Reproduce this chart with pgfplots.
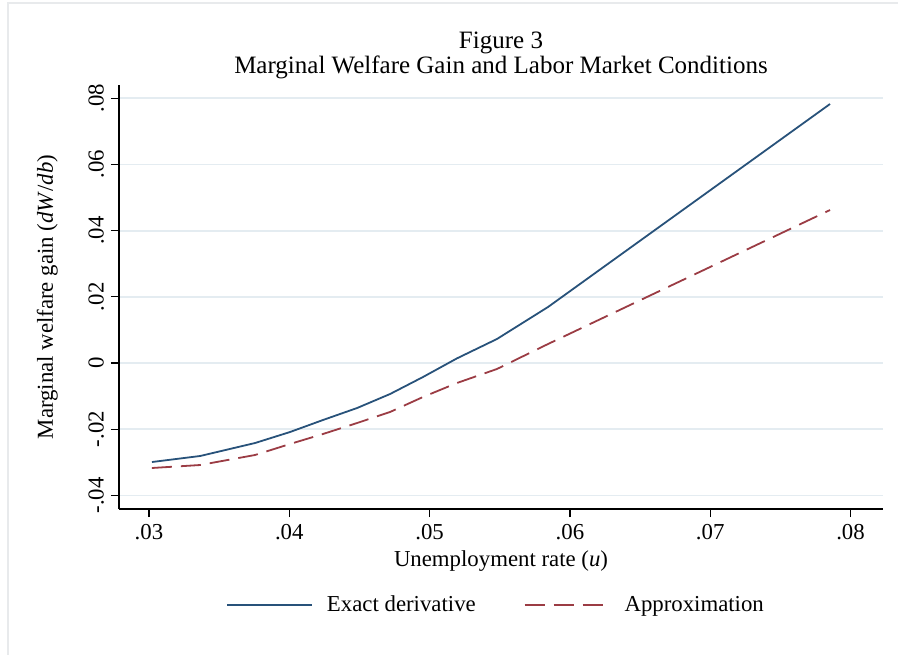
\documentclass[border=0pt]{standalone}
\usepackage{pgfplots}
\pgfplotsset{compat=1.18}
\usepackage{fontspec}
\setmainfont{Liberation Serif}
\definecolor{stnavy}{RGB}{40,82,122}
\definecolor{stmaroon}{RGB}{155,60,68}
\definecolor{stgrid}{RGB}{228,236,241}
\definecolor{stframe}{RGB}{232,234,236}
\begin{document}
\begin{tikzpicture}
\useasboundingbox (-59.5pt,-73pt) rectangle (389.5pt,254.5pt);
\draw[stframe, line width=0.8pt] (-55.5pt,-73pt) -- (-55.5pt,253pt) -- (389.5pt,253pt);
\begin{axis}[
  at={(0,0)}, anchor=south west,
  scale only axis, width=382pt, height=212pt,
  xmin=0.027862, xmax=0.082316, ymin=-0.04411, ymax=0.08399,
  scaled ticks=false,
  axis x line*=bottom, axis y line*=left,
  axis line style={line width=0.6pt, -},
  tick align=outside, major tick length=4pt,
  tick style={line width=0.6pt, black},
  xtick={0.03,0.04,0.05,0.06,0.07,0.08},
  xticklabels={.03,.04,.05,.06,.07,.08},
  ytick={-0.04,-0.02,0,0.02,0.04,0.06,0.08},
  yticklabels={-.04,-.02,0,.02,.04,.06,.08},
  yticklabel style={rotate=90, anchor=south},
  ymajorgrids, grid style={stgrid, line width=0.9pt},
  font=\fontsize{11.4}{13.5}\selectfont,
  ticklabel style={font=\fontsize{11.4}{13.5}\selectfont},
  xlabel={Unemployment rate (\textit{u})},
  xlabel style={yshift=1.5pt},
  ylabel={Marginal welfare gain (\textit{dW}/\textit{db})},
  ylabel style={yshift=8.5pt},
  title={Figure 3\\Marginal Welfare Gain and Labor Market Conditions},
  title style={align=center, font=\fontsize{12.5}{12.5}\selectfont, at={(0.5,1)}, anchor=south, yshift=-6.5pt},
  legend style={at={(0.4948,-0.2264)}, anchor=center, draw=none, fill=none,
    legend columns=2, font=\fontsize{11.4}{13.5}\selectfont,
    /tikz/every odd column/.append style={column sep=5pt},
    /tikz/every even column/.append style={column sep=22pt}},
  legend image code/.code={\draw[#1] (0pt,0pt) -- (42.5pt,0pt);},
]
\addplot[stnavy, line width=0.9pt] coordinates {
(0.03021,-0.02991) (0.03364,-0.02810) (0.03756,-0.02417) (0.04005,-0.02085)
(0.04240,-0.01722) (0.04483,-0.01360) (0.04718,-0.00937) (0.04953,-0.00423)
(0.05195,0.00140) (0.05480,0.00725) (0.05844,0.01692) (0.07854,0.07825)
};
\addlegendentry{Exact derivative}
\addplot[stmaroon, line width=0.9pt, dash pattern=on 10pt off 4.5pt] coordinates {
(0.03021,-0.03172) (0.03364,-0.03082) (0.03756,-0.02779) (0.04005,-0.02447)
(0.04240,-0.02145) (0.04483,-0.01813) (0.04718,-0.01480) (0.04953,-0.01027)
(0.05195,-0.00604) (0.05480,-0.00181) (0.05844,0.00574) (0.07854,0.04622)
};
\addlegendentry{Approximation}
\end{axis}
\end{tikzpicture}
\end{document}
